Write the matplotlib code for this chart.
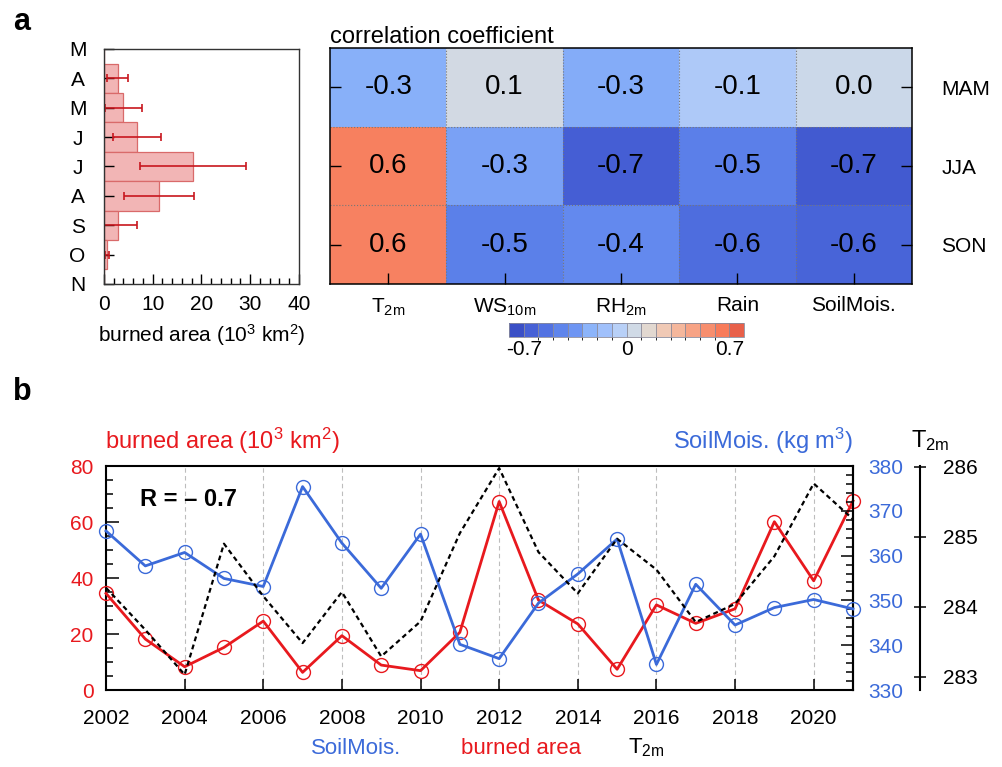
import numpy as np
import matplotlib
matplotlib.use('Agg')
import matplotlib.pyplot as plt
from matplotlib.colors import LinearSegmentedColormap, ListedColormap, BoundaryNorm, Normalize
from matplotlib.ticker import MultipleLocator
import matplotlib.cm as cm

plt.rcParams['font.family'] = ['Liberation Sans', 'DejaVu Sans']
plt.rcParams['mathtext.fontset'] = 'custom'
plt.rcParams['mathtext.rm'] = 'Liberation Sans'
plt.rcParams['mathtext.it'] = 'Liberation Sans:italic'
plt.rcParams['mathtext.bf'] = 'Liberation Sans:bold'

# ---------------- data ----------------
months = ['M', 'A', 'M', 'J', 'J', 'A', 'S', 'O', 'N']
ba_month_mean = [0.0, 2.8, 4.0, 6.8, 18.2, 11.3, 2.9, 0.55, 0.0]
ba_month_std = [0.0, 2.1, 3.7, 4.95, 10.9, 7.2, 3.8, 0.4, 0.0]

variables = [r'T$_{\mathrm{2m}}$', r'WS$_{\mathrm{10m}}$', r'RH$_{\mathrm{2m}}$', 'Rain', 'SoilMois.']
seasons = ['MAM', 'JJA', 'SON']
corr_MAM = [-0.26, 0.06, -0.27, -0.09, 0.03]
corr_JJA = [0.62, -0.31, -0.66, -0.48, -0.68]
corr_SON = [0.61, -0.47, -0.42, -0.58, -0.63]

cbar_levels = [-0.7, -0.6, -0.5, -0.4, -0.3, -0.2, -0.1, 0.0,
               0.1, 0.2, 0.3, 0.4, 0.5, 0.6, 0.7]
cbar_colors = ['#3a4fc6', '#4761d6', '#5272e2', '#5f85ec', '#6e95f3', '#8cb4fa',
               '#a0c0fb', '#b8d0f7', '#d0dae6', '#e2d8d0', '#f0c9b5', '#f5b79c',
               '#f7a385', '#f78e6e', '#f87b5a', '#e8604a']
cbar_ticks = [-0.7, 0.0, 0.7]
cbar_ticklabels = ['-0.7', '0', '0.7']

years = list(range(2002, 2022))
burned_area = [34.5, 18.2, 8.3, 15.2, 24.6, 6.3, 19.4, 8.9, 6.9, 20.6,
               67.3, 32.1, 23.6, 7.4, 30.4, 23.8, 29.0, 60.1, 39.0, 67.5]
soil_moisture = [365.5, 357.7, 360.7, 354.9, 353.1, 375.4, 362.8, 352.7, 364.8, 340.2,
                 337.0, 349.4, 355.9, 363.7, 335.7, 353.6, 344.5, 348.4, 350.2, 348.1]
t2m = [284.27, 283.67, 283.03, 284.90, 284.15, 283.48, 284.21, 283.29, 283.79, 285.05,
       285.98, 284.78, 284.19, 284.97, 284.53, 283.78, 284.04, 284.72, 285.76, 285.25]

RED = '#e8191e'
BLUE = '#3b6ad9'

W, H = 1003, 767
fig = plt.figure(figsize=(W / 100, H / 100), dpi=100)


def fx(px):
    return px / W


def fy(py):
    return 1 - py / H


def rect(l, t, r, b):
    return [fx(l), fy(b), fx(r) - fx(l), fy(t) - fy(b)]


# ---------------- panel a: histogram ----------------
axh = fig.add_axes(rect(104, 49, 299, 284))
ypos = np.arange(len(months))
axh.barh(ypos, ba_month_mean, height=1.0, color='#f2b5b5', edgecolor='#d96a6a', linewidth=0.9)
axh.errorbar(ba_month_mean, ypos, xerr=ba_month_std, fmt='none', ecolor='#c8161e',
             elinewidth=1.2, capsize=3, capthick=1.2)
axh.set_xlim(0, 40)
axh.set_ylim(len(months) - 1, 0)
axh.set_yticks(ypos)
axh.set_yticklabels(months, fontsize=15)
axh.set_xticks([0, 10, 20, 30, 40])
axh.xaxis.set_minor_locator(MultipleLocator(2))
axh.tick_params(axis='x', which='major', direction='in', length=7, width=1, pad=8, labelsize=15)
axh.tick_params(axis='x', which='minor', direction='in', length=4, width=1)
axh.tick_params(axis='y', direction='in', length=7, width=1, pad=19)
for lab in axh.get_yticklabels():
    lab.set_horizontalalignment('center')
axh.set_xlabel(r'burned area (10$^{\mathrm{3}}$ km$^{\mathrm{2}}$)', fontsize=15, labelpad=6)
for s in axh.spines.values():
    s.set_linewidth(1.0)
    s.set_color('#333333')

# ---------------- panel a: heatmap ----------------
axc = fig.add_axes(rect(330, 48, 912, 284))
corr = np.array([corr_MAM, corr_JJA, corr_SON])
cmap_cont = LinearSegmentedColormap.from_list('cc', cbar_colors)
norm_cont = Normalize(-0.75, 0.75)
axc.imshow(corr, cmap=cmap_cont, norm=norm_cont, aspect='auto',
           extent=(-0.5, len(variables) - 0.5, len(seasons) - 0.5, -0.5))
for i in range(len(seasons)):
    for j in range(len(variables)):
        v = corr[i, j]
        txt = f'{v:.1f}'
        if txt == '-0.0':
            txt = '0.0'
        axc.text(j, i, txt, ha='center', va='center', fontsize=20, color='black')
for k in range(1, len(variables)):
    axc.axvline(k - 0.5, color='#777777', ls=':', lw=0.8)
for k in range(1, len(seasons)):
    axc.axhline(k - 0.5, color='#777777', ls=':', lw=0.8)
axc.set_xlim(-0.5, len(variables) - 0.5)
axc.set_ylim(len(seasons) - 0.5, -0.5)
axc.set_xticks(range(len(variables)))
axc.set_xticklabels(variables, fontsize=15)
axc.set_yticks(range(len(seasons)))
axc.set_yticklabels(seasons, fontsize=15)
axc.yaxis.tick_right()
axc.tick_params(axis='y', which='both', left=True, right=True, labelleft=False,
                labelright=True, direction='in', length=8, width=1, pad=21)
axc.tick_params(axis='x', direction='in', length=8, width=1, pad=9)
for s in axc.spines.values():
    s.set_linewidth(1.1)
axc.text(0, 1.0, 'correlation coefficient', transform=axc.transAxes,
         ha='left', va='bottom', fontsize=17)

# colorbar
cax = fig.add_axes(rect(509, 323, 744, 337))
cmap_d = ListedColormap(cbar_colors[1:-1])
cmap_d.set_under(cbar_colors[0])
cmap_d.set_over(cbar_colors[-1])
bnorm = BoundaryNorm(cbar_levels, cmap_d.N)
cb = fig.colorbar(cm.ScalarMappable(norm=bnorm, cmap=cmap_d), cax=cax,
                  orientation='horizontal', extend='both', extendrect=True,
                  extendfrac='auto', drawedges=True)
cb.dividers.set_color('#8a8a9a')
cb.dividers.set_linewidth(0.6)
cb.outline.set_linewidth(0.6)
cb.outline.set_edgecolor('#8a8a9a')
cb.set_ticks(cbar_ticks)
cb.set_ticklabels(cbar_ticklabels)
cax.tick_params(length=0, labelsize=15, pad=2)

# ---------------- panel b ----------------
ax = fig.add_axes(rect(106, 466, 853, 690))
ax2 = ax.twinx()
ax3 = ax.twinx()

ax.plot(years, burned_area, color=RED, lw=2.0, marker='o', ms=10,
        mfc='none', mec=RED, mew=1.0, zorder=4, clip_on=False)
ax2.plot(years, soil_moisture, color=BLUE, lw=2.0, marker='o', ms=10,
         mfc='none', mec=BLUE, mew=1.0, zorder=3, clip_on=False)
ax3.plot(years, t2m, color='black', lw=1.6, ls=(0, (2.2, 1.6)), zorder=2)

ax.set_xlim(years[0], years[-1])
ax.set_ylim(0, 80)
ax2.set_ylim(330, 380)
ax3.set_ylim(282.81, 286.01)

ax.set_xticks(range(2002, 2022, 2))
ax.xaxis.grid(True, ls=(0, (4, 3)), color='#bdbdbd', lw=0.8)
ax.set_yticks([0, 20, 40, 60, 80])
ax.yaxis.set_minor_locator(MultipleLocator(5))
ax.tick_params(axis='x', direction='in', length=8, width=1.1, pad=14, labelsize=15)
ax.tick_params(axis='y', which='major', direction='in', length=9, width=1.1, pad=9,
               labelsize=15, labelcolor=RED)
ax.tick_params(axis='y', which='minor', direction='in', length=5, width=1.1)

ax2.set_yticks([330, 340, 350, 360, 370, 380])
ax2.yaxis.set_minor_locator(MultipleLocator(2))
ax2.tick_params(axis='y', which='major', direction='in', length=9, width=1.1, pad=11,
                labelsize=15, labelcolor=BLUE)
ax2.tick_params(axis='y', which='minor', direction='in', length=5, width=1.1)

ax3.spines['right'].set_position(('axes', 1.09))
ax3.set_yticks([283, 284, 285, 286])
ax3.tick_params(axis='y', direction='inout', length=9, width=1.1, pad=12, labelsize=15)
for a in (ax2, ax3):
    for side in ('top', 'bottom', 'left'):
        a.spines[side].set_visible(False)
for s in ax.spines.values():
    s.set_linewidth(1.5)
ax2.spines['right'].set_linewidth(1.5)
ax3.spines['right'].set_linewidth(1.5)

ax.text(0.045, 0.85, 'R = – 0.7', transform=ax.transAxes, fontsize=17,
        fontweight='bold', ha='left', va='center')

fig.text(fx(105), fy(441), r'burned area (10$^{\mathrm{3}}$ km$^{\mathrm{2}}$)', color=RED, fontsize=17,
         ha='left', va='center')
fig.text(fx(853), fy(441), r'SoilMois. (kg m$^{\mathrm{3}}$)', color=BLUE, fontsize=17,
         ha='right', va='center')
fig.text(fx(911), fy(441), r'T$_{\mathrm{2m}}$', color='black', fontsize=17, ha='left', va='center')

fig.text(fx(356), fy(748), 'SoilMois.', color=BLUE, fontsize=16, ha='center', va='center')
fig.text(fx(521), fy(748), 'burned area', color=RED, fontsize=16, ha='center', va='center')
fig.text(fx(646), fy(748), r'T$_{\mathrm{2m}}$', color='black', fontsize=16, ha='center', va='center')

fig.text(fx(22), fy(22), 'a', fontsize=22, fontweight='bold', ha='center', va='center')
fig.text(fx(22), fy(392), 'b', fontsize=22, fontweight='bold', ha='center', va='center')

fig.savefig('out.png', dpi=100)
